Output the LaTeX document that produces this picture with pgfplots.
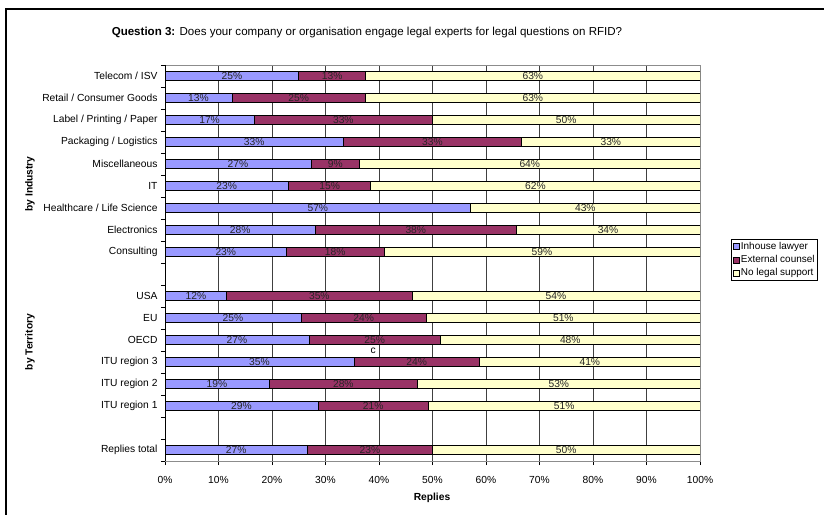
\documentclass[border=0pt]{standalone}
\usepackage{fontspec}
\setmainfont{Liberation Sans}
\usepackage{pgfplots}
\usepackage{pgfplotstable}
\pgfplotsset{compat=1.18}
\definecolor{cblue}{HTML}{9999FF}
\definecolor{cred}{HTML}{993366}
\definecolor{cyel}{HTML}{FFFFCC}

\pgfplotstableread{
y a b c la lb lc
17 25 12.5 62.5 25 13 63
16 12.5 25 62.5 13 25 63
15 16.67 33.33 50 17 33 50
14 33.33 33.33 33.34 33 33 33
13 27.27 9.09 63.64 27 9 64
12 23.08 15.38 61.54 23 15 62
11 57.14 0 42.86 57 0 43
10 28.125 37.5 34.375 28 38 34
9 22.73 18.18 59.09 23 18 59
7 11.54 34.62 53.84 12 35 54
6 25.4 23.5 51.1 25 24 51
5 26.9 24.6 48.5 27 25 48
4 35.29 23.53 41.18 35 24 41
3 19.44 27.78 52.78 19 28 53
2 28.6 20.6 50.8 29 21 51
0 26.6 23.4 50.0 27 23 50
}\data
\pgfplotstablecreatecol[expr={\thisrow{a}/2}]{ca}\data
\pgfplotstablecreatecol[expr={\thisrow{a}+\thisrow{b}/2}]{cb}\data
\pgfplotstablecreatecol[expr={\thisrow{a}+\thisrow{b}+\thisrow{c}/2}]{cc}\data

\pgfplotsset{
  common/.style={
    at={(165bp,54bp)}, anchor=south west,
    scale only axis, width=535bp, height=396bp,
    xmin=0, xmax=100, ymin=-0.5, ymax=17.5,
  },
}

\begin{document}
\begin{tikzpicture}
\useasboundingbox (0bp,0bp) rectangle (824bp,515bp);
\begin{axis}[common,
  xbar stacked, bar width=9bp,
  axis line style={black!45},
  tick align=outside, tick pos=left,
  xtick={0,10,...,100},
  xticklabel={\pgfmathprintnumber{\tick}\%},
  /pgf/number format/assume math mode=true,
  xmajorgrids, major grid style={black!75, line width=0.6bp},
  major tick length=4bp, minor tick length=4bp,
  ytick={0,2,3,4,5,6,7,9,10,11,12,13,14,15,16,17},
  yticklabels={Replies total, ITU region 1, ITU region 2, ITU region 3, OECD, EU, USA,
    Consulting, Electronics, Healthcare / Life Science, IT, Miscellaneous,
    Packaging / Logistics, Label / Printing / Paper, Retail / Consumer Goods, Telecom / ISV},
  minor ytick={-0.5,0.5,...,17.5},
  major y tick style={draw=none},
  minor y tick style={draw=black, line width=0.6bp},
  major x tick style={draw=black, line width=0.6bp},
  tick label style={font=\fontsize{10.3}{12}\selectfont},
  xticklabel style={yshift=-8bp},
  legend style={at={(axis description cs:1.058,0.5606)}, anchor=north west,
    draw=black, line width=0.6bp, font=\fontsize{10}{12}\selectfont,
    inner sep=1.5bp, nodes={inner sep=1.5bp}, row sep=1.5bp},
  legend cell align=left,
]
\addplot[fill=cblue, draw=black, line width=0.6bp,
  legend image code/.code={\draw[fill=cblue, draw=black, line width=0.6bp] (0bp,-3bp) rectangle (6bp,3bp);}]
  table[x=a, y=y]{\data};
\addplot[fill=cred, draw=black, line width=0.6bp,
  legend image code/.code={\draw[fill=cred, draw=black, line width=0.6bp] (0bp,-3bp) rectangle (6bp,3bp);}]
  table[x=b, y=y]{\data};
\addplot[fill=cyel, draw=black, line width=0.6bp,
  legend image code/.code={\draw[fill=cyel, draw=black, line width=0.6bp] (0bp,-3bp) rectangle (6bp,3bp);}]
  table[x=c, y=y]{\data};
\legend{Inhouse lawyer, External counsel, No legal support}
\draw[black, line width=0.8bp] (rel axis cs:0,1) -- (rel axis cs:0,0) -- (rel axis cs:1,0);
\end{axis}

\begin{axis}[common, hide axis,
  point meta=explicit symbolic,
  every node near coord/.append style={anchor=center, inner sep=0pt,
    font=\fontsize{10.3}{12}\selectfont, text=black!85},
]
\addplot[draw=none, mark=none, nodes near coords={\pgfplotspointmeta\%}]
  table[x=ca, y=y, meta=la]{\data};
\addplot[draw=none, mark=none, nodes near coords={\pgfplotspointmeta\%},
  skip coords between index={6}{7}]
  table[x=cb, y=y, meta=lb]{\data};
\addplot[draw=none, mark=none, nodes near coords={\pgfplotspointmeta\%}]
  table[x=cc, y=y, meta=lc]{\data};
\node[font=\fontsize{10.3}{12}\selectfont] at (axis cs:38.9,4.5) {c};
\end{axis}

\node[font=\fontsize{11.6}{14}\selectfont] at (367bp,482bp)
  {\textbf{Question 3:} Does your company or organisation engage legal experts for legal questions on RFID?};
\node[font=\bfseries\fontsize{10.3}{12}\selectfont] at (432bp,17bp) {Replies};
\node[font=\bfseries\fontsize{10.3}{12}\selectfont, rotate=90] at (30bp,331bp) {by Industry};
\node[font=\bfseries\fontsize{10.3}{12}\selectfont, rotate=90] at (30bp,173bp) {by Territory};
\draw[line width=2.2bp] (6bp,-20bp) -- (6bp,506bp) -- (900bp,506bp);
\end{tikzpicture}
\end{document}
